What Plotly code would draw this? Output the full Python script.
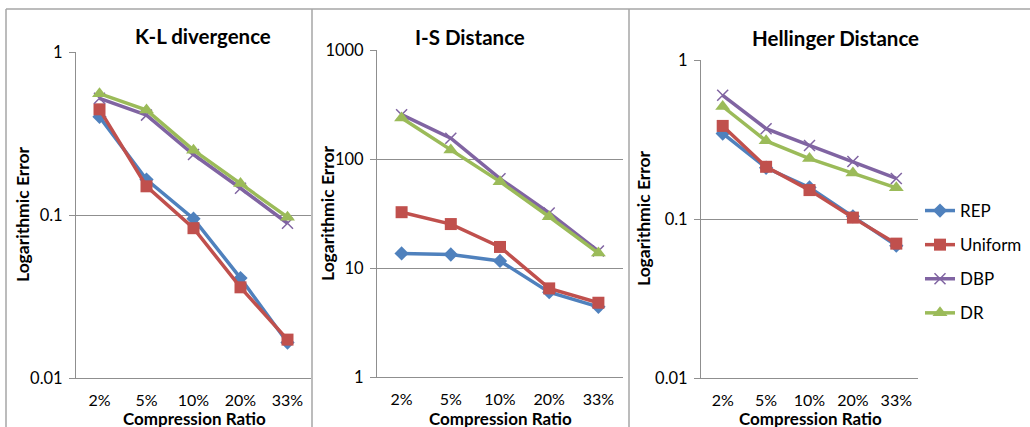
import plotly.graph_objects as go

cats = ["2%", "5%", "10%", "20%", "33%"]
series = ["REP", "Uniform", "DBP", "DR"]

kl_rep = [0.40, 0.165, 0.095, 0.041, 0.0165]
kl_uniform = [0.445, 0.150, 0.083, 0.036, 0.0172]
kl_dbp = [0.52, 0.41, 0.235, 0.146, 0.089]
kl_dr = [0.555, 0.44, 0.25, 0.156, 0.097]

is_rep = [13.6, 13.3, 11.6, 6.0, 4.4]
is_uniform = [32.5, 25.3, 15.6, 6.5, 4.8]
is_dbp = [255, 155, 66, 32, 14.3]
is_dr = [238, 121, 62, 29.5, 13.7]

hd_rep = [0.345, 0.21, 0.158, 0.104, 0.068]
hd_uniform = [0.385, 0.213, 0.152, 0.102, 0.070]
hd_dbp = [0.60, 0.37, 0.29, 0.23, 0.18]
hd_dr = [0.51, 0.31, 0.24, 0.195, 0.157]

titles = ["K-L divergence", "I-S Distance", "Hellinger Distance"]
panels = [
    [kl_rep, kl_uniform, kl_dbp, kl_dr],
    [is_rep, is_uniform, is_dbp, is_dr],
    [hd_rep, hd_uniform, hd_dbp, hd_dr],
]

colors = ["#4F81BD", "#C0504D", "#8064A2", "#9BBB59"]
symbols = ["diamond", "square", "x-thin", "triangle-up"]
msizes = [11, 12, 11, 13]

W, H = 1030, 427
FONT = "Lato"
GRID = "#8f8f8f"
BORDER = "#a6a6a6"

# plot areas in pixels (x0, x1, ytop, ybottom)
areas = [(76, 311, 52, 378), (377, 623, 50, 377), (701, 918, 60, 378)]
yranges = [[-2, 0], [0, 3], [-2, 0]]
yticks = [([0.01, 0.1, 1], ["0.01", "0.1", "1"]),
          ([1, 10, 100, 1000], ["1", "10", "100", "1000"]),
          ([0.01, 0.1, 1], ["0.01", "0.1", "1"])]
tick_side = ["top", "bottom", "top"]

fig = go.Figure()

for p, vals in enumerate(panels):
    xa = "x" if p == 0 else f"x{p+1}"
    ya = "y" if p == 0 else f"y{p+1}"
    for s, v in enumerate(vals):
        mk = dict(symbol=symbols[s], size=msizes[s], color=colors[s])
        if symbols[s] == "x-thin":
            mk["line"] = dict(color=colors[s], width=1.5)
        else:
            mk["line"] = dict(width=0)
        fig.add_trace(go.Scatter(
            x=cats, y=v, mode="lines+markers", name=series[s],
            line=dict(color=colors[s], width=3.5), marker=mk,
            xaxis=xa, yaxis=ya, showlegend=(p == 2), legendgroup=series[s],
        ))

layout = dict(
    width=W, height=H, margin=dict(l=0, r=0, t=0, b=0, autoexpand=False),
    paper_bgcolor="white", plot_bgcolor="white",
    font=dict(family=FONT, size=16, color="black"),
    legend=dict(x=920 / W, y=1 - 193 / H, xanchor="left", yanchor="top",
                font=dict(family=FONT, size=17), tracegroupgap=9,
                bgcolor="rgba(0,0,0,0)", itemwidth=30),
)

annotations = []
shapes = []
for p, (x0, x1, yt, yb) in enumerate(areas):
    sfx = "" if p == 0 else str(p + 1)
    dom_x = [x0 / W, x1 / W]
    dom_y = [1 - yb / H, 1 - yt / H]
    layout[f"xaxis{sfx}"] = dict(
        domain=dom_x, anchor=f"y{sfx}", type="category",
        categoryorder="array", categoryarray=cats, range=[-0.5, 4.5],
        showgrid=False, showline=True, linecolor=GRID, linewidth=1,
        ticks="", tickfont=dict(family=FONT, size=16), ticklabelstandoff=8,
        zeroline=False, fixedrange=True, automargin=False,
    )
    layout[f"yaxis{sfx}"] = dict(
        domain=dom_y, anchor=f"x{sfx}", type="log", range=yranges[p],
        tickvals=yticks[p][0], ticktext=yticks[p][1],
        showgrid=True, gridcolor=GRID, gridwidth=1,
        showline=True, linecolor=GRID, linewidth=1,
        ticks="outside", ticklen=6, tickcolor=GRID,
        tickfont=dict(family=FONT, size=16.5), ticklabelstandoff=3,
        zeroline=False, fixedrange=True, automargin=False,
    )
    # overlay axis for the boundary tick marks
    tk = 7 + p
    layout[f"xaxis{tk}"] = dict(
        overlaying=f"x{sfx}", anchor=f"y{sfx}", side=tick_side[p],
        range=[-0.5, 4.5], tickvals=[-0.5, 0.5, 1.5, 2.5, 3.5, 4.5],
        showticklabels=False, showgrid=False, zeroline=False,
        showline=True, linecolor=GRID,
        ticks="inside" if tick_side[p] == "top" else "outside",
        ticklen=6, tickcolor=GRID, fixedrange=True, automargin=False,
    )

    annotations.append(dict(text=f"<b>{titles[p]}</b>", xref="paper", yref="paper",
                            x=[203, 470, 835][p] / W, y=1 - [36, 37, 38][p] / H,
                            showarrow=False, xanchor="center", yanchor="middle",
                            font=dict(family=FONT, size=20.5, color="black")))
    annotations.append(dict(text="<b>Logarithmic Error</b>", xref="paper", yref="paper",
                            x=[22, 327, 643][p] / W, y=1 - [214, 213, 218][p] / H,
                            textangle=-90, showarrow=False, xanchor="center",
                            yanchor="middle",
                            font=dict(family=FONT, size=17.5, color="black")))
    annotations.append(dict(text="<b>Compression Ratio</b>", xref="paper", yref="paper",
                            x=[194, 500, 810][p] / W, y=1 - 418 / H,
                            showarrow=False, xanchor="center", yanchor="middle",
                            font=dict(family=FONT, size=17, color="black")))

# chart borders
for (bx0, bx1) in [(6, 312), (312, 629), (629, 1035)]:
    shapes.append(dict(type="line", xref="paper", yref="paper",
                       x0=bx0 / W, x1=bx1 / W, y0=1 - 9 / H, y1=1 - 9 / H,
                       line=dict(color=BORDER, width=1.5)))
for bx in [6, 312, 629]:
    shapes.append(dict(type="line", xref="paper", yref="paper",
                       x0=bx / W, x1=bx / W, y0=1 - 9 / H, y1=-0.05,
                       line=dict(color=BORDER, width=1.5)))

layout["annotations"] = annotations
layout["shapes"] = shapes
fig.update_layout(**layout)

fig.write_html(
    "out.html",
    config={"displayModeBar": False},
    post_script="document.body.style.margin='0';document.body.style.overflow='hidden';",
)
